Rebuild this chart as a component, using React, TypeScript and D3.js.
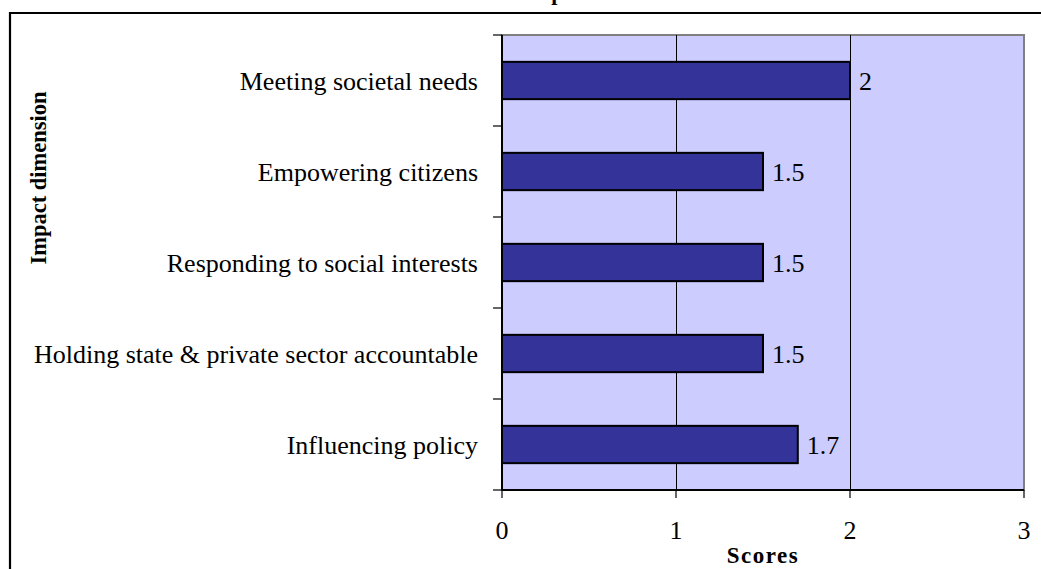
import React, { useEffect, useRef } from "react";
import * as d3 from "d3";

const categories = [
  "Meeting societal needs",
  "Empowering citizens",
  "Responding to social interests",
  "Holding state & private sector accountable",
  "Influencing policy",
];
const scores = [2, 1.5, 1.5, 1.5, 1.7];
const xTicks = [0, 1, 2, 3];
const xTitle = "Scores";
const yTitle = "Impact dimension";
const chartTitle = "Impact";

const W = 1041;
const H = 569;

export default function App() {
  const ref = useRef<SVGSVGElement | null>(null);

  useEffect(() => {
    const svg = d3.select(ref.current);
    svg.selectAll("*").remove();

    const left = 502, right = 1024, top = 35, bottom = 490;
    const x = d3.scaleLinear().domain([0, 3]).range([left, right]);
    const y = d3.scaleBand().domain(categories).range([top, bottom]).paddingInner(0.59).paddingOuter(0.295);
    const font = "'Liberation Serif', 'Times New Roman', serif";
    const fs = 26;

    // outer frame
    svg.append("path")
      .attr("d", `M10,${H + 5} L10,13 L${W + 5},13`)
      .attr("fill", "none").attr("stroke", "#000").attr("stroke-width", 2.2);

    // title (cut off at top)
    svg.append("text")
      .attr("x", 558).attr("y", 0)
      .attr("text-anchor", "middle")
      .attr("font-family", font).attr("font-weight", "bold").attr("font-size", 22)
      .text(chartTitle);

    // plot area
    svg.append("rect")
      .attr("x", left).attr("y", top).attr("width", right - left).attr("height", bottom - top)
      .attr("fill", "#CCCCFF").attr("stroke", "#808080").attr("stroke-width", 2);

    // gridlines
    svg.append("g").selectAll("line").data(xTicks.filter(t => t > 0 && t < 3)).join("line")
      .attr("x1", d => Math.round(x(d)) + 0.5).attr("x2", d => Math.round(x(d)) + 0.5)
      .attr("y1", top).attr("y2", bottom)
      .attr("stroke", "#000").attr("stroke-width", 1);

    // bars
    svg.append("g").selectAll("rect").data(categories).join("rect")
      .attr("x", x(0)).attr("y", d => y(d)!)
      .attr("width", (d, i) => x(scores[i]) - x(0)).attr("height", y.bandwidth())
      .attr("fill", "#333399").attr("stroke", "#000").attr("stroke-width", 2);

    // value labels
    svg.append("g").selectAll("text").data(categories).join("text")
      .attr("x", (d, i) => x(scores[i]) + 9).attr("y", d => y(d)! + y.bandwidth() / 2)
      .attr("dy", "0.35em")
      .attr("font-family", font).attr("font-size", fs).attr("fill", "#000")
      .text((d, i) => String(scores[i]));

    // y axis
    const step = (bottom - top) / categories.length;
    svg.append("line").attr("x1", left).attr("x2", left).attr("y1", top).attr("y2", bottom)
      .attr("stroke", "#000").attr("stroke-width", 2);
    svg.append("g").selectAll("line").data(d3.range(categories.length + 1)).join("line")
      .attr("x1", left - 9).attr("x2", left).attr("y1", i => top + i * step).attr("y2", i => top + i * step)
      .attr("stroke", "#000").attr("stroke-width", 1.2);
    svg.append("g").selectAll("text").data(categories).join("text")
      .attr("x", 478).attr("y", d => y(d)! + y.bandwidth() / 2).attr("dy", "0.35em")
      .attr("text-anchor", "end")
      .attr("font-family", font).attr("font-size", fs).attr("fill", "#000")
      .text(d => d);

    // x axis
    svg.append("line").attr("x1", left).attr("x2", right).attr("y1", bottom).attr("y2", bottom)
      .attr("stroke", "#000").attr("stroke-width", 2);
    svg.append("g").selectAll("line").data(xTicks).join("line")
      .attr("x1", d => x(d)).attr("x2", d => x(d)).attr("y1", bottom).attr("y2", bottom + 8)
      .attr("stroke", "#000").attr("stroke-width", 1.2);
    svg.append("g").selectAll("text").data(xTicks).join("text")
      .attr("x", d => x(d)).attr("y", 539)
      .attr("text-anchor", "middle")
      .attr("font-family", font).attr("font-size", fs).attr("fill", "#000")
      .text(d => String(d));

    svg.append("text")
      .attr("x", 763).attr("y", 563).attr("text-anchor", "middle")
      .attr("font-family", font).attr("font-weight", "bold").attr("font-size", 23)
      .attr("letter-spacing", 1.5)
      .text(xTitle);

    svg.append("text")
      .attr("transform", "translate(46,178) rotate(-90)")
      .attr("text-anchor", "middle")
      .attr("font-family", font).attr("font-weight", "bold").attr("font-size", 22.5)
      .text(yTitle);
  }, []);

  return (
    <svg ref={ref} width={W} height={H}
      style={{ position: "absolute", left: 0, top: 0, background: "#fff" }} />
  );
}
